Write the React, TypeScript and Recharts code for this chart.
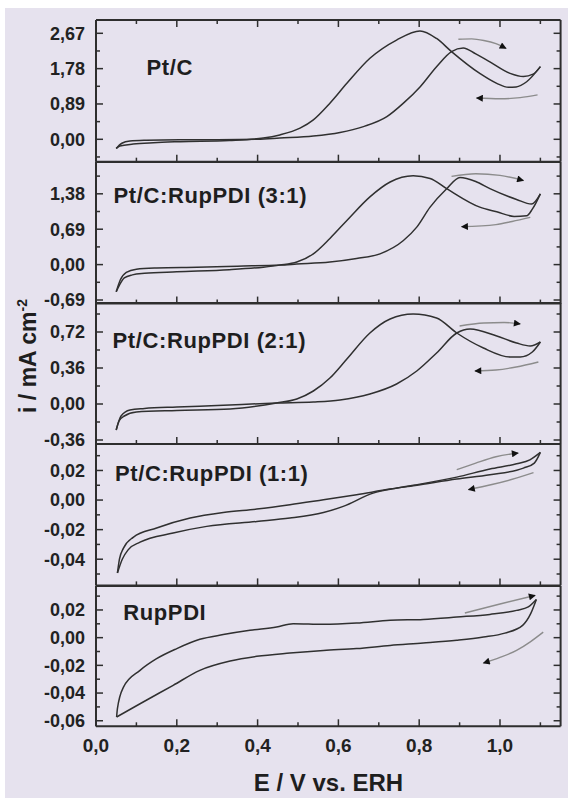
import { LineChart, Line, XAxis, YAxis } from 'recharts'

const FONT = '"Liberation Sans", Arial, Helvetica, sans-serif'
const INK = '#2e2e2e'
const BG = '#e6e2ee'

type Pt = [number, number]

// potential axis, E / V
const eTicks = [0, 0.1, 0.2, 0.3, 0.4, 0.5, 0.6, 0.7, 0.8, 0.9, 1.0, 1.1]
const eMajor = [0, 0.2, 0.4, 0.6, 0.8, 1.0]

// Pt/C
const ptcForward: Pt[] = [
  [0.05, -0.23], [0.064, -0.1], [0.084, -0.045], [0.125, -0.025], [0.208, -0.012], [0.3, -0.01],
  [0.4, 0.0], [0.455, 0.03], [0.538, 0.08], [0.604, 0.17], [0.662, 0.32], [0.72, 0.57],
  [0.761, 0.91], [0.802, 1.32], [0.843, 1.83], [0.88, 2.21], [0.909, 2.3], [0.94, 2.15],
  [0.975, 1.95], [1.025, 1.66], [1.058, 1.58], [1.082, 1.64], [1.1, 1.83],
]
const ptcBackward: Pt[] = [
  [1.1, 1.83], [1.066, 1.45], [1.04, 1.32], [1.021, 1.31], [0.992, 1.41], [0.95, 1.66],
  [0.88, 2.21], [0.843, 2.54], [0.802, 2.73], [0.744, 2.5], [0.678, 2.04], [0.621, 1.41],
  [0.579, 0.91], [0.538, 0.49], [0.505, 0.28], [0.455, 0.11], [0.414, 0.03], [0.33, -0.03],
  [0.208, -0.06], [0.142, -0.085], [0.092, -0.12], [0.059, -0.17], [0.05, -0.23],
]
const ptcArrowFwd: Pt[] = [[0.897, 2.52], [0.93, 2.53], [0.96, 2.49], [0.99, 2.41], [1.015, 2.29]]
const ptcArrowBwd: Pt[] = [[1.093, 1.12], [1.05, 1.05], [1.0, 1.02], [0.942, 1.04]]
const ptcTicks = [-0.445, 0, 0.445, 0.89, 1.335, 1.78, 2.225, 2.67]
const ptcMajor = [0, 0.89, 1.78, 2.67]

// Pt/C:RupPDI (3:1)
const r31Forward: Pt[] = [
  [0.05, -0.53], [0.06, -0.3], [0.075, -0.15], [0.1, -0.09], [0.15, -0.065], [0.25, -0.05],
  [0.35, -0.03], [0.455, -0.01], [0.497, 0.01], [0.579, 0.05], [0.645, 0.12], [0.703, 0.21],
  [0.761, 0.47], [0.794, 0.73], [0.827, 1.12], [0.868, 1.48], [0.901, 1.7], [0.94, 1.62],
  [0.975, 1.48], [1.041, 1.27], [1.078, 1.18], [1.1, 1.38],
]
const r31Backward: Pt[] = [
  [1.1, 1.38], [1.08, 1.08], [1.066, 0.95], [1.035, 0.94], [0.992, 1.03], [0.95, 1.12],
  [0.868, 1.48], [0.827, 1.68], [0.785, 1.73], [0.728, 1.61], [0.678, 1.32], [0.621, 0.86],
  [0.579, 0.51], [0.538, 0.21], [0.497, 0.05], [0.455, -0.01], [0.414, -0.05], [0.33, -0.1],
  [0.2, -0.14], [0.12, -0.17], [0.09, -0.2], [0.07, -0.26], [0.058, -0.4], [0.05, -0.53],
]
const r31ArrowFwd: Pt[] = [[0.88, 1.72], [0.94, 1.77], [1.0, 1.74], [1.058, 1.64]]
const r31ArrowBwd: Pt[] = [[1.075, 0.92], [1.03, 0.84], [0.99, 0.78], [0.905, 0.74]]
const r31Ticks = [-0.69, -0.345, 0, 0.345, 0.69, 1.035, 1.38, 1.725]
const r31Major = [-0.69, 0, 0.69, 1.38]

// Pt/C:RupPDI (2:1)
const r21Forward: Pt[] = [
  [0.05, -0.26], [0.062, -0.12], [0.084, -0.06], [0.12, -0.045], [0.2, -0.03], [0.3, -0.015],
  [0.447, 0.01], [0.538, 0.02], [0.604, 0.04], [0.678, 0.1], [0.744, 0.2], [0.794, 0.33],
  [0.843, 0.51], [0.893, 0.71], [0.926, 0.75], [0.992, 0.68], [1.041, 0.61], [1.075, 0.58],
  [1.1, 0.62],
]
const r21Backward: Pt[] = [
  [1.1, 0.62], [1.08, 0.52], [1.05, 0.47], [1.025, 0.47], [0.959, 0.56], [0.893, 0.71],
  [0.843, 0.86], [0.785, 0.9], [0.728, 0.85], [0.678, 0.71], [0.621, 0.45], [0.579, 0.26],
  [0.538, 0.13], [0.497, 0.05], [0.447, 0.01], [0.332, -0.05], [0.2, -0.065], [0.1, -0.08],
  [0.07, -0.12], [0.057, -0.17], [0.05, -0.26],
]
const r21ArrowFwd: Pt[] = [[0.9, 0.78], [0.96, 0.81], [1.01, 0.815], [1.05, 0.8]]
const r21ArrowBwd: Pt[] = [[1.095, 0.42], [1.04, 0.37], [0.99, 0.34], [0.938, 0.33]]
const r21Ticks = [-0.36, -0.18, 0, 0.18, 0.36, 0.54, 0.72, 0.9]
const r21Major = [-0.36, 0, 0.36, 0.72]

// Pt/C:RupPDI (1:1)
const r11Forward: Pt[] = [
  [0.053, -0.0493], [0.065, -0.04], [0.08, -0.0335], [0.109, -0.0285], [0.191, -0.0223],
  [0.274, -0.0178], [0.398, -0.0145], [0.48, -0.0122], [0.563, -0.0084], [0.612, -0.0043],
  [0.686, 0.0047], [0.744, 0.0081], [0.79, 0.0102], [0.893, 0.0155], [0.975, 0.021],
  [1.041, 0.0245], [1.074, 0.0272], [1.1, 0.0322],
]
const r11Backward: Pt[] = [
  [1.1, 0.0322], [1.085, 0.025], [1.058, 0.0216], [0.975, 0.0171], [0.893, 0.0142],
  [0.79, 0.0098], [0.728, 0.0074], [0.645, 0.0036], [0.563, 0.0002], [0.48, -0.0032],
  [0.398, -0.0061], [0.315, -0.0084], [0.233, -0.0122], [0.15, -0.0189], [0.092, -0.0252],
  [0.068, -0.0325], [0.058, -0.04], [0.053, -0.0493],
]
const r11ArrowFwd: Pt[] = [[0.893, 0.0205], [0.94, 0.025], [0.99, 0.0293], [1.045, 0.0318]]
const r11ArrowBwd: Pt[] = [[1.083, 0.0185], [1.04, 0.0148], [0.98, 0.0105], [0.922, 0.007]]
const r11Ticks = [-0.05, -0.04, -0.03, -0.02, -0.01, 0, 0.01, 0.02, 0.03]
const r11Major = [-0.04, -0.02, 0, 0.02]

// RupPDI
const rupForward: Pt[] = [
  [0.051, -0.0573], [0.053, -0.0513], [0.068, -0.0357], [0.109, -0.0236], [0.15, -0.0152],
  [0.2, -0.0079], [0.257, -0.0012], [0.315, 0.0022], [0.381, 0.0053], [0.447, 0.0077],
  [0.488, 0.0101], [0.563, 0.0096], [0.645, 0.0105], [0.728, 0.0125], [0.81, 0.0132],
  [0.893, 0.0149], [0.975, 0.0168], [1.041, 0.0197], [1.07, 0.0222], [1.09, 0.0275],
]
const rupBackward: Pt[] = [
  [1.09, 0.0275], [1.076, 0.0173], [1.056, 0.0089], [1.012, 0.0033], [0.959, 0.0004],
  [0.893, -0.0019], [0.81, -0.0039], [0.728, -0.0056], [0.645, -0.0079], [0.563, -0.0092],
  [0.48, -0.0111], [0.398, -0.0135], [0.332, -0.0169], [0.257, -0.0236], [0.191, -0.0344],
  [0.109, -0.0477], [0.051, -0.0573],
]
const rupArrowFwd: Pt[] = [[0.913, 0.0178], [1.0, 0.0243], [1.087, 0.0305]]
const rupArrowBwd: Pt[] = [[1.107, 0.004], [1.075, -0.003], [1.041, -0.0092], [1.0, -0.0143], [0.959, -0.0183]]
const rupTicks = [-0.06, -0.05, -0.04, -0.03, -0.02, -0.01, 0, 0.01, 0.02, 0.03]
const rupMajor = [-0.06, -0.04, -0.02, 0, 0.02]

const panels = [
  { key: 'ptc', title: 'Pt/C', fwd: ptcForward, bwd: ptcBackward, aF: ptcArrowFwd, aB: ptcArrowBwd, ticks: ptcTicks, major: ptcMajor, domain: [-0.564, 3.005], top: 12, h: 141.7, tx: 141.5, ty: 67 },
  { key: 'r31', title: 'Pt/C:RupPDI (3:1)', fwd: r31Forward, bwd: r31Backward, aF: r31ArrowFwd, aB: r31ArrowBwd, ticks: r31Ticks, major: r31Major, domain: [-0.76, 2.0], top: 153.7, h: 141.6, tx: 108.6, ty: 195 },
  { key: 'r21', title: 'Pt/C:RupPDI (2:1)', fwd: r21Forward, bwd: r21Backward, aF: r21ArrowFwd, aB: r21ArrowBwd, ticks: r21Ticks, major: r21Major, domain: [-0.4, 1.01], top: 295.3, h: 141, tx: 107.6, ty: 340 },
  { key: 'r11', title: 'Pt/C:RupPDI (1:1)', fwd: r11Forward, bwd: r11Backward, aF: r11ArrowFwd, aB: r11ArrowBwd, ticks: r11Ticks, major: r11Major, domain: [-0.0577, 0.0379], top: 436.3, h: 141.4, tx: 110, ty: 473 },
  { key: 'rup', title: 'RupPDI', fwd: rupForward, bwd: rupBackward, aF: rupArrowFwd, aB: rupArrowBwd, ticks: rupTicks, major: rupMajor, domain: [-0.064, 0.0373], top: 577.7, h: 140.3, tx: 118.3, ty: 612 },
]

const rows = (pts: Pt[]) => pts.map(([e, i]) => ({ e, i }))
const fmt = (v: number, d: number) => v.toFixed(d).replace('.', ',')
const isMajor = (v: number, major: number[]) => major.some((m) => Math.abs(m - v) < 1e-9)

const PAD = 6
const W = 563

function YTick(props: any) {
  const { x, y, payload, major, side } = props
  const big = isMajor(payload.value, major)
  const len = big ? 7 : 4
  const dir = side === 'left' ? 1 : -1
  return (
    <g>
      <line x1={x} x2={x + dir * len} y1={y} y2={y} stroke={INK} strokeWidth={1.5} />
      {side === 'left' && big && (
        <text x={x - 11} y={y + 6.4} textAnchor="end" fontFamily={FONT} fontWeight="bold" fontSize={18} fill="#222">
          {fmt(payload.value, 2)}
        </text>
      )}
    </g>
  )
}

function XTick(props: any) {
  const { x, y, payload, side, labels } = props
  const big = isMajor(payload.value, eMajor)
  const len = big ? 7 : 4
  const dir = side === 'bottom' ? -1 : 1
  return (
    <g>
      <line x1={x} x2={x} y1={y} y2={y + dir * len} stroke={INK} strokeWidth={1.5} />
      {labels && big && (
        <text x={x} y={y + 26} textAnchor="middle" fontFamily={FONT} fontWeight="bold" fontSize={19} fill="#222">
          {fmt(payload.value, 1)}
        </text>
      )}
    </g>
  )
}

function Panel({ p, idx, last }: { p: (typeof panels)[number]; idx: number; last: boolean }) {
  const axisH = last ? 40 : 1
  const height = PAD + p.h + (last ? axisH : PAD)
  const arrowId = `arrowhead-${p.key}`
  return (
    <div style={{ position: 'absolute', left: 0, top: p.top - PAD, width: W, height }}>
      <LineChart width={W} height={height} margin={{ top: PAD - 1, right: 6.4, bottom: last ? 0 : PAD - 1, left: 0 }}>
        <defs>
          <marker id={arrowId} viewBox="0 0 10 10" refX="9" refY="5" markerWidth="10" markerHeight="7" markerUnits="userSpaceOnUse" orient="auto">
            <path d="M0,0 L10,5 L0,10 z" fill="#111" />
          </marker>
        </defs>
        <XAxis
          type="number"
          dataKey="e"
          domain={[0, 1.15]}
          ticks={eTicks}
          interval={0}
          allowDataOverflow
          height={axisH}
          tickSize={0}
          tickMargin={0}
          tickLine={false}
          axisLine={{ stroke: INK, strokeWidth: 2 }}
          tick={(t: any) => <XTick {...t} side="bottom" labels={last} />}
        />
        <XAxis
          xAxisId="top"
          orientation="top"
          type="number"
          dataKey="e"
          domain={[0, 1.15]}
          ticks={eTicks}
          interval={0}
          allowDataOverflow
          height={1}
          tickSize={0}
          tickMargin={0}
          tickLine={false}
          axisLine={{ stroke: INK, strokeWidth: 2 }}
          tick={idx === 0 ? (t: any) => <XTick {...t} side="top" labels={false} /> : false}
        />
        <YAxis
          type="number"
          dataKey="i"
          domain={p.domain}
          ticks={p.ticks}
          interval={0}
          allowDataOverflow
          width={91}
          tickSize={0}
          tickMargin={0}
          tickLine={false}
          axisLine={{ stroke: INK, strokeWidth: 2 }}
          tick={(t: any) => <YTick {...t} major={p.major} side="left" />}
        />
        <YAxis
          yAxisId="right"
          orientation="right"
          type="number"
          dataKey="i"
          domain={p.domain}
          ticks={p.ticks}
          interval={0}
          allowDataOverflow
          width={1}
          tickSize={0}
          tickMargin={0}
          tickLine={false}
          axisLine={{ stroke: INK, strokeWidth: 2 }}
          tick={(t: any) => <YTick {...t} major={p.major} side="right" />}
        />
        <Line data={rows(p.fwd)} dataKey="i" type="monotone" stroke="#303030" strokeWidth={1.5} dot={false} isAnimationActive={false} />
        <Line data={rows(p.bwd)} dataKey="i" type="monotone" stroke="#303030" strokeWidth={1.5} dot={false} isAnimationActive={false} />
        <Line data={rows(p.aF)} dataKey="i" type="monotone" stroke="#8c8c8c" strokeWidth={1.4} dot={false} isAnimationActive={false} markerEnd={`url(#${arrowId})`} />
        <Line data={rows(p.aB)} dataKey="i" type="monotone" stroke="#8c8c8c" strokeWidth={1.4} dot={false} isAnimationActive={false} markerEnd={`url(#${arrowId})`} />
      </LineChart>
    </div>
  )
}

export default function App() {
  return (
    <div style={{ position: 'absolute', left: 5, top: 8, width: W, height: 790, background: BG, overflow: 'hidden' }}>
      {panels.map((p, idx) => (
        <Panel key={p.key} p={p} idx={idx} last={idx === panels.length - 1} />
      ))}
      <svg width={W} height={790} style={{ position: 'absolute', left: 0, top: 0, pointerEvents: 'none' }}>
        {panels.map((p) => (
          <text key={p.key} x={p.tx} y={p.ty} fontFamily={FONT} fontWeight="bold" fontSize={22} letterSpacing={0.6} fill="#1e1e1e">
            {p.title}
          </text>
        ))}
        <text transform="translate(31, 348) rotate(-90)" textAnchor="middle" fontFamily={FONT} fontWeight="bold" fontSize={23} fill="#1e1e1e">
          i / mA cm<tspan dy={-9} fontSize={14}>-2</tspan>
        </text>
        <text x={323.5} y={782.6} textAnchor="middle" fontFamily={FONT} fontWeight="bold" fontSize={24} fill="#1e1e1e">
          E / V vs. ERH
        </text>
      </svg>
    </div>
  )
}
